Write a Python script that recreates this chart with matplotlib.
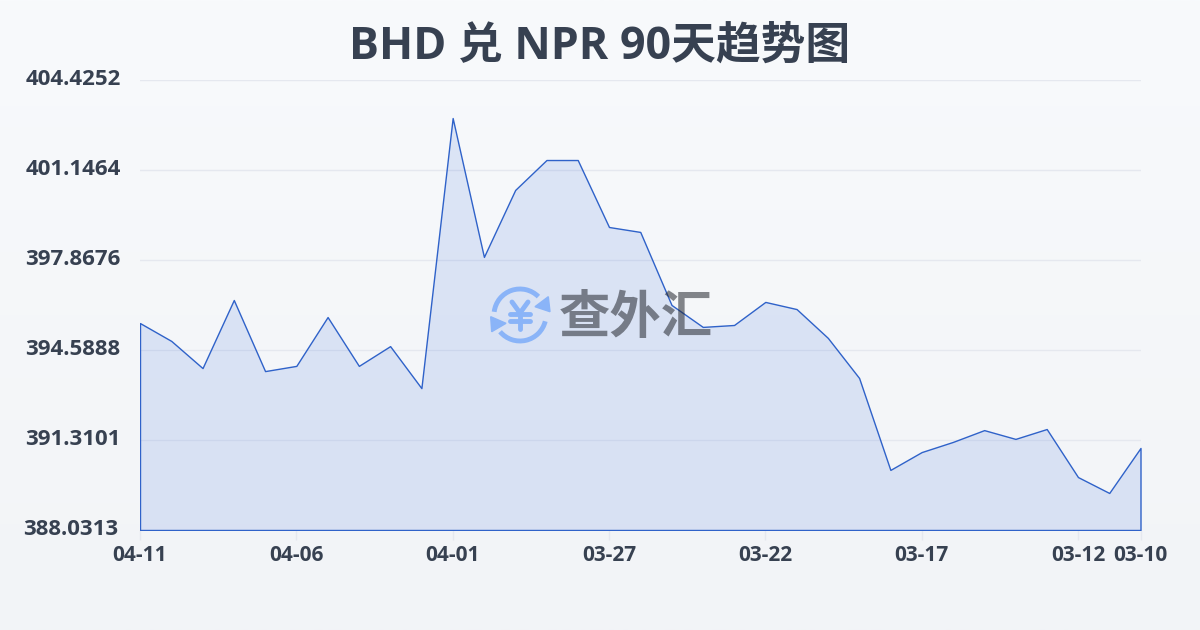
import numpy as np
import matplotlib
matplotlib.use('Agg')
import matplotlib.pyplot as plt
from matplotlib.patches import Arc, Polygon
from matplotlib.transforms import ScaledTranslation

LATIN = ['Open Sans', 'Noto Sans CJK SC', 'DejaVu Sans']
plt.rcParams['font.family'] = LATIN

dates = ['04-11', '04-10', '04-09', '04-08', '04-07', '04-06', '04-05', '04-04', '04-03', '04-02', '04-01',
         '03-31', '03-30', '03-29', '03-28', '03-27', '03-26', '03-25', '03-24', '03-23', '03-22', '03-21',
         '03-20', '03-19', '03-18', '03-17', '03-16', '03-15', '03-14', '03-13', '03-12', '03-11', '03-10']
rates = [395.57, 394.92, 393.93, 396.41, 393.82, 394.01, 395.79, 394.01, 394.73, 393.20, 403.04,
         397.98, 400.42, 401.51, 401.51, 399.07, 398.89, 396.23, 395.43, 395.50, 396.34, 396.08,
         395.03, 393.57, 390.22, 390.87, 391.24, 391.67, 391.35, 391.71, 389.96, 389.38, 391.02]
shown_dates = ['04-11', '04-06', '04-01', '03-27', '03-22', '03-17', '03-12', '03-10']
y_ticks = [388.0313, 391.3101, 394.5888, 397.8676, 401.1464, 404.4252]

TEXT = '#374151'
LINE = '#2f62c9'

fig = plt.figure(figsize=(12, 6.3), dpi=100)

# page background
bg = fig.add_axes([0, 0, 1, 1], zorder=0)
top = np.array([248, 250, 252]) / 255
bottom = np.array([242, 244, 247]) / 255
grad = np.linspace(0, 1, 256)[:, None, None]
bg.imshow(top * (1 - grad) + bottom * grad, aspect='auto')
bg.axis('off')

ax = fig.add_axes([140 / 1200, 100 / 630, 1000.5 / 1200, 450 / 630], zorder=1)
ax.patch.set_alpha(0)
x = np.arange(len(dates))
ax.fill_between(x, rates, y_ticks[0], facecolor=(0.16, 0.38, 0.85, 0.13), edgecolor=LINE,
                linewidth=1.0, zorder=3)

ax.set_xlim(0, len(dates) - 1)
ax.set_ylim(y_ticks[0], y_ticks[-1])
for s in ax.spines.values():
    s.set_visible(False)

ax.set_yticks(y_ticks)
ax.set_yticklabels([f'{v:.4f}' for v in y_ticks], fontsize=16, fontweight='bold', color=TEXT)
ax.tick_params(axis='y', length=0, pad=14)
ax.yaxis.grid(True, color='#e5e8ef', linewidth=1)
ax.set_axisbelow(True)
ax.set_xticks([dates.index(d) for d in shown_dates])
ax.set_xticklabels(shown_dates, fontsize=15, fontweight='bold', color=TEXT)
ax.tick_params(axis='x', length=7, width=1, color='#e5e8ef', pad=4)

# y labels sit a little above their gridlines
shift = ScaledTranslation(0, 2 / 72, fig.dpi_scale_trans)
for lab in ax.get_yticklabels():
    lab.set_transform(lab.get_transform() + shift)
low = ax.get_yticklabels()[0]
low.set_transform(low.get_transform() + ScaledTranslation(-1.5 / 72, 0, fig.dpi_scale_trans))

fig.text(600 / 1200, 1 - 47.5 / 630, 'BHD 兑 NPR 90天趋势图', ha='center', va='center', fontsize=32.2,
         fontweight='bold', color=TEXT)

# watermark, drawn in pixel coordinates
wm = fig.add_axes([0, 0, 1, 1], zorder=2)
wm.set_xlim(0, 1200)
wm.set_ylim(630, 0)
wm.axis('off')
ICON = '#8ab4f8'
wm.add_patch(Arc((520, 315), 52, 52, theta1=187, theta2=315, color=ICON, lw=3.5))
wm.add_patch(Arc((520, 315), 52, 52, theta1=14, theta2=140, color=ICON, lw=3.5))
wm.add_patch(Polygon([(548.3, 296.7), (550, 311.7), (535, 306.7)], color=ICON))
wm.add_patch(Polygon([(490.7, 316.7), (506, 323.3), (491.7, 331.7)], color=ICON))
for xs, ys in [([512, 520, 528], [302, 313, 302]), ([510, 530], [314, 314]), ([510, 530], [321, 321]),
               ([520, 520], [313, 329])]:
    wm.plot(xs, ys, color=ICON, lw=3.5, solid_capstyle='round', solid_joinstyle='round')
wm.text(636, 317, '查外汇', ha='center', va='center', fontsize=37, fontweight='bold',
        family=['Noto Sans CJK SC'], color='#23262e', alpha=0.55)

fig.savefig('out.png', dpi=100)
